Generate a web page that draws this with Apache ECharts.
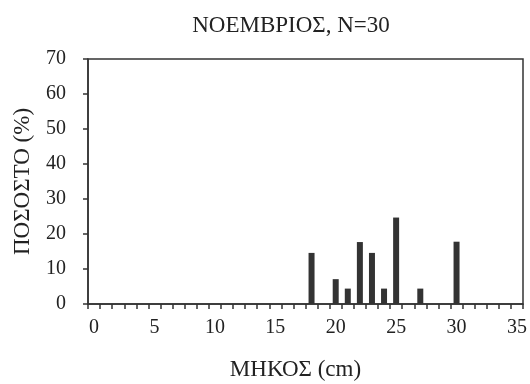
<!DOCTYPE html>
<html>
<head>
<meta charset="utf-8">
<script src="https://cdn.jsdelivr.net/npm/echarts@6/dist/echarts.min.js"></script>
<style>
  html, body { margin: 0; padding: 0; background: #fff; }
  #chart { width: 530px; height: 384px; }
</style>
</head>
<body>
<div id="chart"></div>
<script>
// μήκος (cm) 0..35
const lengths = []
for (let i = 0; i <= 35; i++) lengths.push(String(i))

const barLengths = [18, 20, 21, 22, 23, 24, 25, 27, 30]
const barPercents = [14.6, 7.1, 4.4, 17.7, 14.6, 4.4, 24.7, 4.4, 17.8]

const yTicks = { min: 0, max: 70, interval: 10 }

const seriesData = lengths.map(function (l) {
  const k = barLengths.indexOf(Number(l))
  return k >= 0 ? barPercents[k] : 0
})

const font = 'Liberation Serif'
const ink = '#222'

const chart = echarts.init(document.getElementById('chart'))
chart.setOption({
  animation: false,
  title: {
    text: 'ΝΟΕΜΒΡΙΟΣ, N=30',
    left: 286,
    textAlign: 'center',
    top: 9,
    textStyle: { fontFamily: font, fontWeight: 'normal', fontSize: 23, color: ink }
  },
  grid: {
    left: 88,
    right: 7,
    top: 59,
    bottom: 80,
    outerBoundsMode: 'none',
    containLabel: false,
    show: true,
    borderColor: '#333',
    borderWidth: 1.5
  },
  xAxis: {
    type: 'category',
    data: lengths,
    boundaryGap: true,
    name: 'ΜΗΚΟΣ (cm)',
    nameLocation: 'middle',
    nameGap: 54,
    nameTextStyle: { fontFamily: font, fontSize: 23, color: ink, padding: [0, 20, 0, 0] },
    axisLine: { lineStyle: { color: '#333', width: 1.5 } },
    axisTick: { show: true, interval: 0, length: 5, lineStyle: { color: '#333', width: 1.5 } },
    axisLabel: { interval: 4, margin: 14, fontFamily: font, fontSize: 20, color: ink }
  },
  yAxis: {
    type: 'value',
    min: yTicks.min,
    max: yTicks.max,
    interval: yTicks.interval,
    name: 'ΠΟΣΟΣΤΟ (%)',
    nameLocation: 'middle',
    nameGap: 54,
    nameTextStyle: { fontFamily: font, fontSize: 23, color: ink },
    splitLine: { show: false },
    axisLine: { show: true, lineStyle: { color: '#333', width: 1.5 } },
    axisTick: { show: true, length: 5, lineStyle: { color: '#333', width: 1.5 } },
    axisLabel: { margin: 22, fontFamily: font, fontSize: 20, color: ink }
  },
  series: [{
    type: 'bar',
    data: seriesData,
    barWidth: 6,
    itemStyle: { color: '#333' }
  }]
})
</script>
</body>
</html>
